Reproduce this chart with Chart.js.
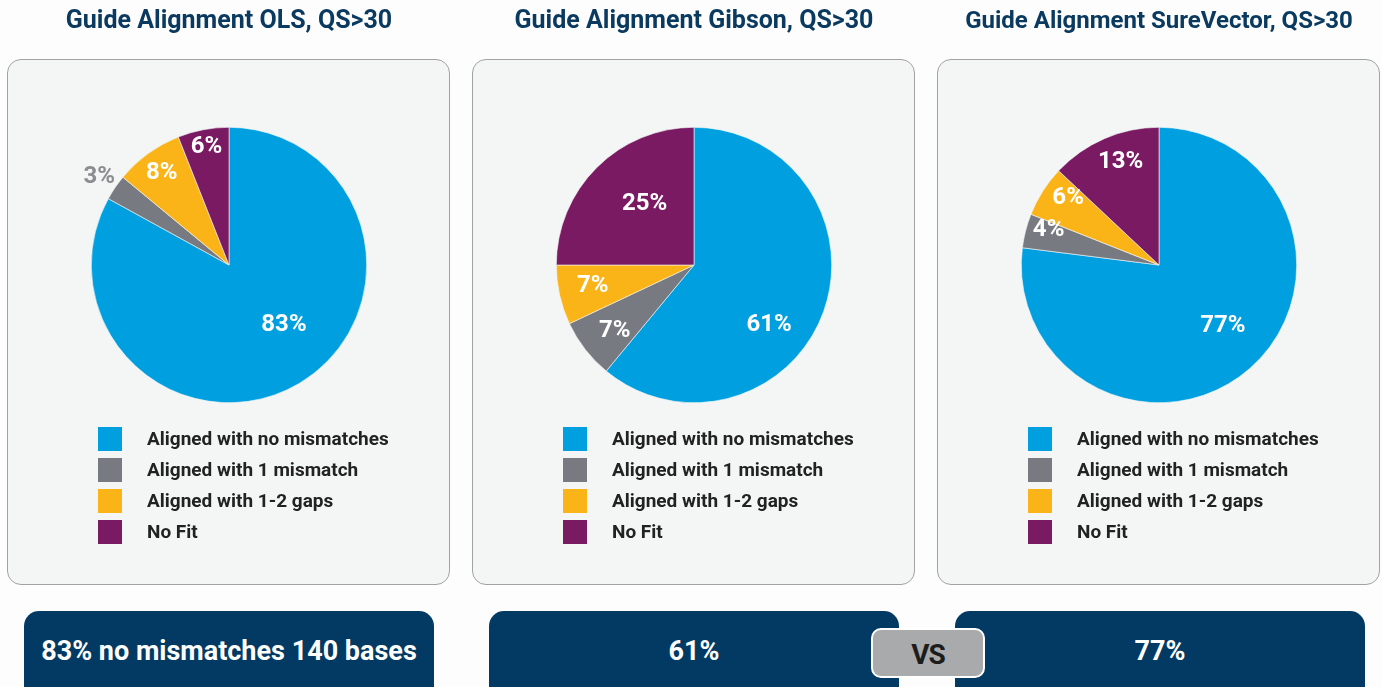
<!DOCTYPE html>
<html lang="en">
<head>
  <meta charset="utf-8">
  <title>Guide Alignment</title>
  <style>
    body { margin: 0; width: 1382px; height: 687px; overflow: hidden; background: #fdfdfd;
           font-family: Roboto, "Noto Sans", sans-serif; position: relative; }
    .panel { position: absolute; top: 59px; width: 441px; height: 524px; background: #f4f6f6;
             border: 1.5px solid #a2a2a2; border-radius: 14px; }
    .chart-box { position: absolute; top: 0; width: 458px; height: 590px; }
    .pill { position: absolute; top: 611px; height: 90px; width: 410px; background: #023a63;
            border-radius: 15px; color: #fff; font-weight: 700; font-size: 27px; line-height: 80px;
            text-align: center; }
    .vs { position: absolute; left: 871px; top: 628px; width: 110px; height: 46px; background: #a8aaab;
          border: 2px solid #fff; border-radius: 10px; color: #1c1c1c; font-weight: 700; font-size: 28px;
          line-height: 50px; text-align: center; letter-spacing: -1px; }
  </style>
</head>

<body>
  <div class="panel" style="left: 7px;"></div>
  <div class="panel" style="left: 472px;"></div>
  <div class="panel" style="left: 937px;"></div>

  <div class="chart-box" style="left: 0px;"><canvas id="chartOls" width="458" height="590"></canvas></div>
  <div class="chart-box" style="left: 465px;"><canvas id="chartGibson" width="458" height="590"></canvas></div>
  <div class="chart-box" style="left: 930px;"><canvas id="chartSure" width="458" height="590"></canvas></div>

  <div class="pill" style="left: 24px;">83% no mismatches 140 bases</div>
  <div class="pill" style="left: 489px;">61%</div>
  <div class="pill" style="left: 955px;">77%</div>
  <div class="vs">VS</div>

  <script src="https://cdn.jsdelivr.net/npm/chart.js@4.4.0/dist/chart.umd.min.js"></script>
  <script>
    // data
    var categories = ['Aligned with no mismatches', 'Aligned with 1 mismatch', 'Aligned with 1-2 gaps', 'No Fit'];
    var olsValues = [83, 3, 8, 6];
    var gibsonValues = [61, 7, 7, 25];
    var sureValues = [77, 4, 6, 13];
    var chartTitles = ['Guide Alignment OLS, QS>30', 'Guide Alignment Gibson, QS>30', 'Guide Alignment SureVector, QS>30'];

    var sliceColors = ['#009fe0', '#777b81', '#fbb417', '#7a1a62'];
    var titleSizes = [25, 25, 24];

    // where each percentage label sits (fraction of radius, angle nudge in degrees)
    var labelSpots = [
      { radius: [0.59, 1.14, 0.83, 0.87], shift: [-12, 0, 0, 0] },
      { radius: [0.70, 0.75, 0.75, 0.57], shift: [19, -2, 1, 6] },
      { radius: [0.64, 0.84, 0.82, 0.80], shift: [-5, 3, 4, 3] }
    ];

    const sliceLabels = {
      id: 'sliceLabels',
      afterDatasetsDraw(chart, args, opts) {
        const ctx = chart.ctx;
        const meta = chart.getDatasetMeta(0);
        const vals = chart.data.datasets[0].data;
        const total = vals.reduce((a, b) => a + b, 0);
        ctx.save();
        ctx.font = 'bold 24px Roboto, "Noto Sans", sans-serif';
        ctx.textAlign = 'center';
        ctx.textBaseline = 'middle';
        meta.data.forEach((arc, i) => {
          const p = arc.getProps(['x', 'y', 'startAngle', 'endAngle', 'outerRadius'], true);
          const mid = (p.startAngle + p.endAngle) / 2 + (opts.shift[i] || 0) * Math.PI / 180;
          const r = p.outerRadius * opts.radius[i];
          ctx.fillStyle = opts.radius[i] > 1 ? '#8b8d90' : '#ffffff';
          ctx.fillText(Math.round(vals[i] / total * 100) + '%', p.x + Math.cos(mid) * r, p.y + Math.sin(mid) * r);
        });
        ctx.restore();
      }
    };

    const boxLegend = {
      id: 'boxLegend',
      afterDraw(chart) {
        const ctx = chart.ctx;
        const colors = chart.data.datasets[0].backgroundColor;
        const top = chart.chartArea.bottom + 36;
        ctx.save();
        ctx.font = 'bold 19px Roboto, "Noto Sans", sans-serif';
        ctx.textBaseline = 'middle';
        chart.data.labels.forEach((label, i) => {
          const y = top + i * 31;
          ctx.fillStyle = colors[i];
          ctx.fillRect(98, y - 12, 24, 24);
          ctx.fillStyle = '#222222';
          ctx.fillText(label, 147, y + 1);
        });
        ctx.restore();
      }
    };

    const makePie = function(id, values, title, titleSize, spots) {
      return new Chart(document.getElementById(id), {
        type: 'pie',
        data: {
          labels: categories,
          datasets: [{
            data: values,
            backgroundColor: sliceColors,
            borderColor: '#f4f6f6',
            borderWidth: 0.6
          }]
        },
        options: {
          responsive: false,
          animation: false,
          layout: { padding: { top: 0, bottom: 187, left: 0, right: 0 } },
          plugins: {
            legend: { display: false },
            tooltip: { enabled: false },
            title: {
              display: true,
              text: title,
              color: '#0b3a60',
              font: { family: 'Roboto', size: titleSize, weight: 'bold' },
              padding: { top: 7 + (25 - titleSize) * 0.6, bottom: 90 + (25 - titleSize) * 0.6 }
            },
            sliceLabels: spots
          }
        },
        plugins: [sliceLabels, boxLegend]
      });
    };

    makePie('chartOls', olsValues, chartTitles[0], titleSizes[0], labelSpots[0]);
    makePie('chartGibson', gibsonValues, chartTitles[1], titleSizes[1], labelSpots[1]);
    makePie('chartSure', sureValues, chartTitles[2], titleSizes[2], labelSpots[2]);
  </script>
</body>
</html>
